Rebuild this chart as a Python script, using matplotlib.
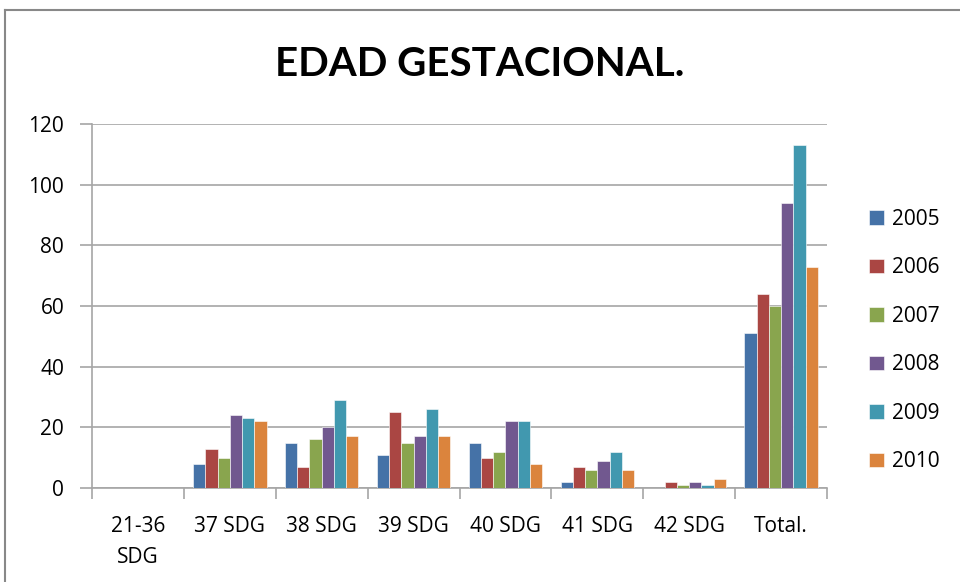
import matplotlib.pyplot as plt
from matplotlib.lines import Line2D
import numpy as np

plt.rcParams['font.family'] = ['Open Sans', 'DejaVu Sans']

categories = ['21-36\nSDG', '37 SDG', '38 SDG', '39 SDG', '40 SDG', '41 SDG', '42 SDG', 'Total.']
years = ['2005', '2006', '2007', '2008', '2009', '2010']
v2005 = [0, 8, 15, 11, 15, 2, 0, 51]
v2006 = [0, 13, 7, 25, 10, 7, 2, 64]
v2007 = [0, 10, 16, 15, 12, 6, 1, 60]
v2008 = [0, 24, 20, 17, 22, 9, 2, 94]
v2009 = [0, 23, 29, 26, 22, 12, 1, 113]
v2010 = [0, 22, 17, 17, 8, 6, 3, 73]
series = [v2005, v2006, v2007, v2008, v2009, v2010]
colors = ['#4572A7', '#AA4643', '#89A54E', '#71588F', '#4198AF', '#DB843D']

fig = plt.figure(figsize=(9.6, 5.82), dpi=100)
ax = fig.add_axes([92/960, 1-488/582, (827-92)/960, (488-124)/582])

n = len(series)
group_w = 0.80
bw = group_w / n
x = np.arange(len(categories))
for i, (vals, c) in enumerate(zip(series, colors)):
    offs = (i - (n - 1) / 2) * bw
    ax.bar(x + offs, vals, bw, color=c, label=years[i], edgecolor='white', linewidth=0.4, zorder=3)

ax.set_xlim(-0.5, len(categories) - 0.5)
ax.set_ylim(0, 120)
ax.set_yticks(range(0, 121, 20))
ax.yaxis.grid(True, color='#a6a6a6', linewidth=1.2, zorder=0)
ax.set_axisbelow(True)

for s in ['top', 'right']:
    ax.spines[s].set_visible(False)
ax.spines['left'].set_color('#a6a6a6')
ax.spines['bottom'].set_color('#a6a6a6')
ax.spines['left'].set_linewidth(1.2)
ax.spines['bottom'].set_linewidth(1.2)

ax.set_xticks(np.arange(-0.5, len(categories)), minor=False)
ax.set_xticklabels([])
ax.set_xticks(x, minor=True)
ax.set_xticklabels(categories, minor=True, fontsize=15, linespacing=1.65)
ax.tick_params(axis='x', which='major', length=8, color='#a6a6a6', width=1.2)
ax.tick_params(axis='x', which='minor', length=0, pad=20)
ax.tick_params(axis='y', length=9, color='#a6a6a6', width=1.2, labelsize=15, pad=11)

fig.text(0.5, 1 - 64/582, 'EDAD GESTACIONAL.', ha='center', va='center',
         fontsize=29, fontweight='bold', family=['Lato', 'DejaVu Sans'])

fig.legend(loc='center left', bbox_to_anchor=(869/960, 1 - 340.5/582), frameon=False, fontsize=15,
           handlelength=0.72, handleheight=0.72, labelspacing=1.32, handletextpad=0.4,
           borderpad=0, borderaxespad=0)

# chart frame
fig.add_artist(Line2D([5/960, 5/960], [0, 1-10/582], color='#888888', linewidth=1.5))
fig.add_artist(Line2D([5/960, 1], [1-10/582, 1-10/582], color='#888888', linewidth=1.5))

fig.savefig('out.png', dpi=100)
